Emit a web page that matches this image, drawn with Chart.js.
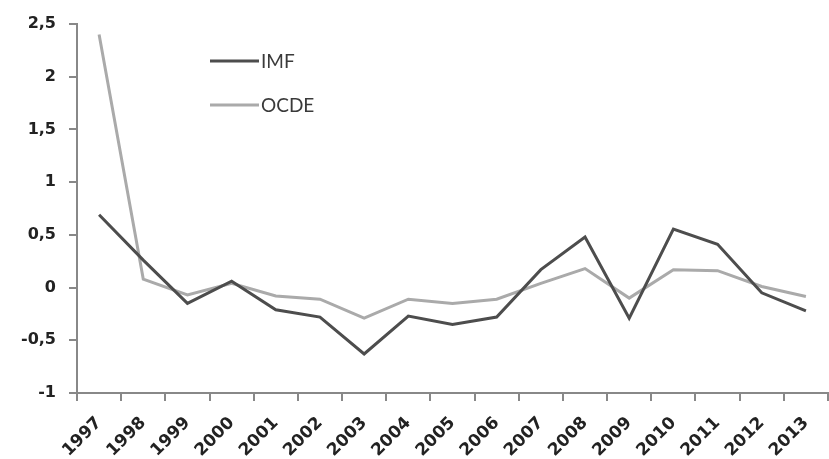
<!DOCTYPE html>
<html>
<head>
<meta charset="utf-8">
<script src="https://cdn.jsdelivr.net/npm/chart.js@4"></script>
<style>
html,body{margin:0;padding:0;background:#fff;}
#wrap{width:829px;height:459px;position:relative;}
</style>
</head>
<body>
<div id="wrap"><canvas id="c" width="829" height="459"></canvas></div>
<script>
const years = ['1997','1998','1999','2000','2001','2002','2003','2004','2005','2006','2007','2008','2009','2010','2011','2012','2013'];
const imf  = [0.69, 0.26, -0.15, 0.06, -0.21, -0.28, -0.63, -0.27, -0.35, -0.28, 0.17, 0.48, -0.29, 0.555, 0.41, -0.05, -0.22];
const ocde = [2.40, 0.08, -0.07, 0.04, -0.08, -0.11, -0.29, -0.11, -0.15, -0.11, 0.04, 0.18, -0.10, 0.17, 0.16, 0.01, -0.085];
const yTicks = [-1, -0.5, 0, 0.5, 1, 1.5, 2, 2.5];

const legendPlugin = {
  id: 'insideLegend',
  afterDraw(chart) {
    const ctx = chart.ctx;
    const x0 = chart.chartArea.left + 133;
    const y0 = chart.chartArea.top + 37;
    chart.data.datasets.forEach((ds, i) => {
      const y = y0 + i * 44;
      ctx.save();
      ctx.strokeStyle = ds.borderColor;
      ctx.lineWidth = 3;
      ctx.beginPath();
      ctx.moveTo(x0, y);
      ctx.lineTo(x0 + 49, y);
      ctx.stroke();
      ctx.fillStyle = '#3a3a3a';
      ctx.font = '19px Lato';
      ctx.textBaseline = 'middle';
      ctx.fillText(ds.label, x0 + 51, y + 1);
      ctx.restore();
    });
  }
};

new Chart(document.getElementById('c'), {
  type: 'line',
  data: {
    labels: years,
    datasets: [
      { label: 'IMF', data: imf, borderColor: '#4d4d4d', borderWidth: 3, pointRadius: 0, tension: 0, fill: false },
      { label: 'OCDE', data: ocde, borderColor: '#aaaaaa', borderWidth: 3, pointRadius: 0, tension: 0, fill: false }
    ]
  },
  options: {
    responsive: false,
    animation: false,
    devicePixelRatio: 1,
    layout: { padding: { top: 24, right: 1, left: 0, bottom: 0 } },
    plugins: { legend: { display: false }, tooltip: { enabled: false } },
    scales: {
      x: {
        type: 'category',
        offset: true,
        grid: { offset: true, drawOnChartArea: false, drawTicks: true, tickLength: 8, color: '#888', lineWidth: 2 },
        border: { color: '#888', width: 2 },
        ticks: {
          color: '#222', autoSkip: false, maxRotation: 45, minRotation: 45, padding: 12,
          font: { family: 'DejaVu Sans', size: 17, weight: 'bold' }
        },
        afterFit(scale) { scale.height = 66; scale.paddingLeft = 0; scale.paddingRight = 0; }
      },
      y: {
        min: -1, max: 2.5,
        afterBuildTicks(scale) { scale.ticks = yTicks.map(v => ({ value: v })); },
        grid: { drawOnChartArea: false, drawTicks: true, tickLength: 8, color: '#888', lineWidth: 2 },
        border: { color: '#888', width: 2 },
        ticks: {
          color: '#222', padding: 13,
          font: { family: 'DejaVu Sans', size: 16, weight: 'bold' },
          callback: v => String(v).replace('.', ',')
        },
        afterFit(scale) { scale.width = 77; scale.paddingTop = 0; scale.paddingBottom = 0; }
      }
    }
  },
  plugins: [legendPlugin]
});
</script>
</body>
</html>
